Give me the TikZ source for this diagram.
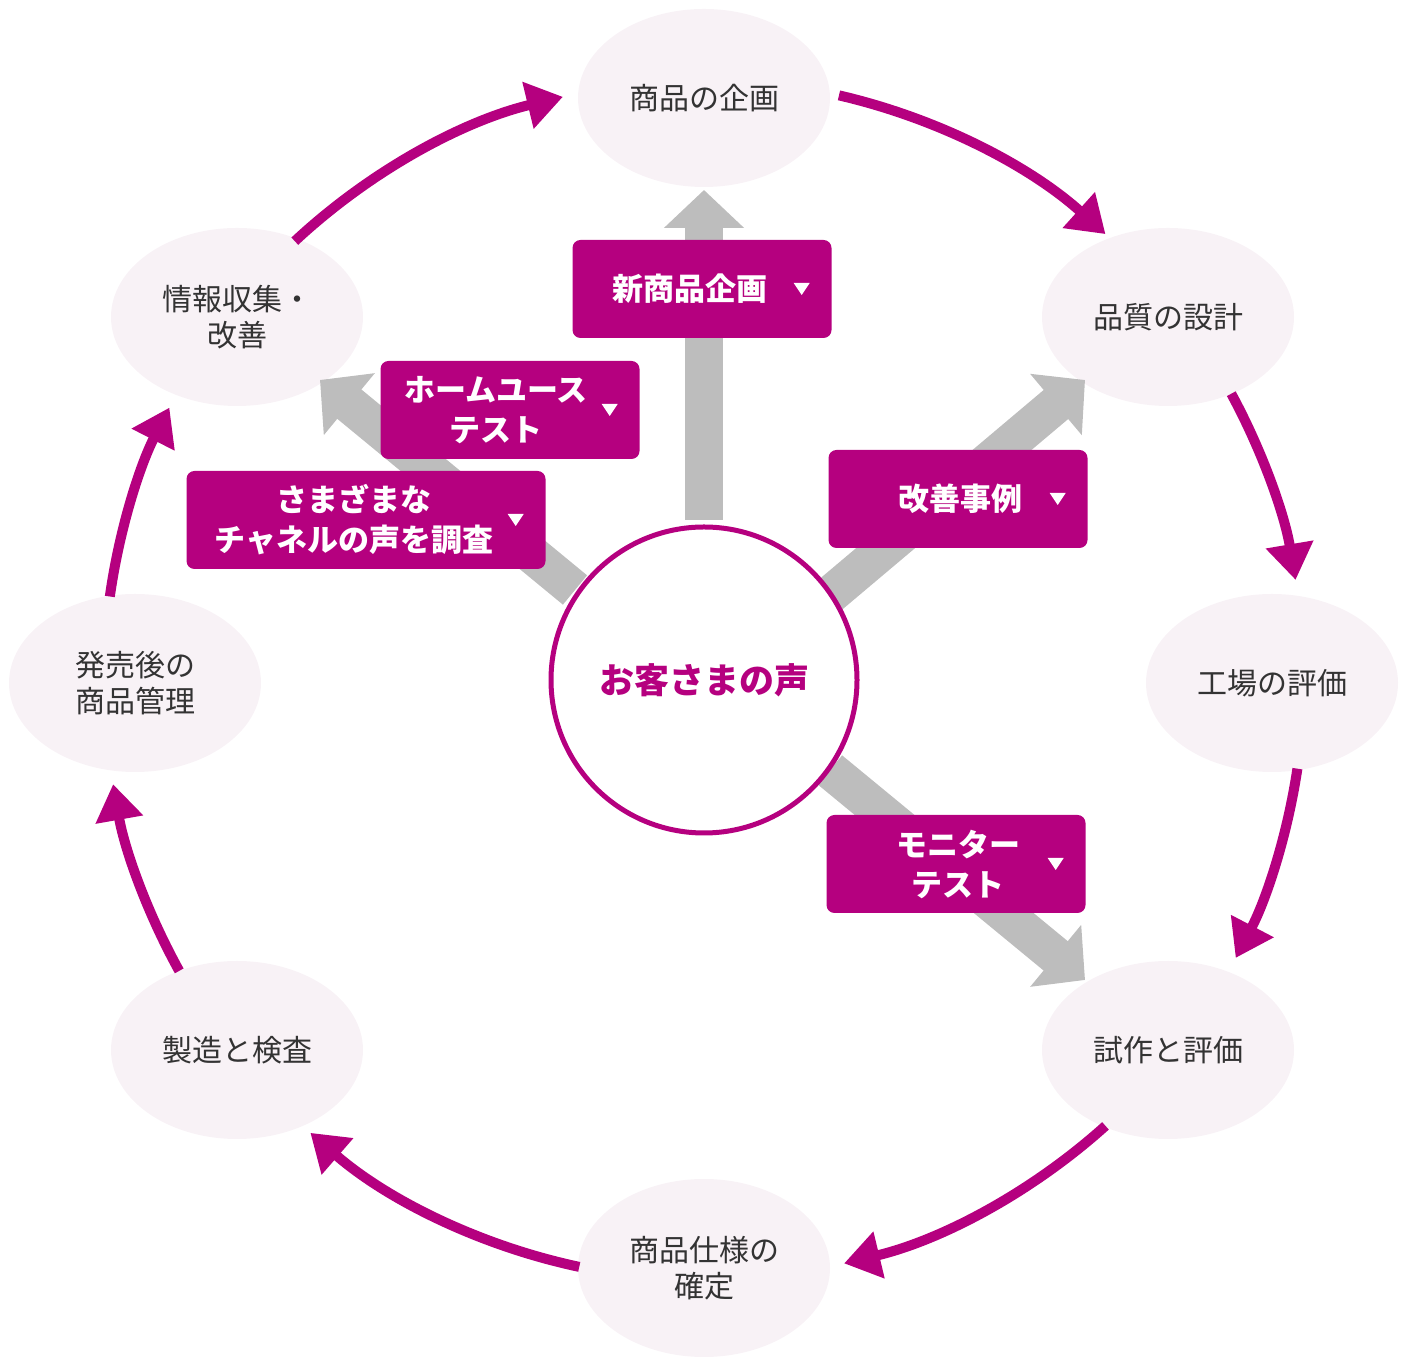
\documentclass[tikz,border=0pt]{standalone}
\usepackage{fontspec}
\setmainfont{Noto Sans CJK JP}
\usetikzlibrary{shapes.geometric,arrows.meta}
\definecolor{magenta}{HTML}{B5007F}
\definecolor{pale}{HTML}{F8F2F6}
\definecolor{ink}{HTML}{333333}
\definecolor{graybar}{HTML}{BDBDBD}
\tikzset{
  stage/.style={ellipse,fill=pale,minimum width=252pt,minimum height=178pt,
    text=ink,font=\fontsize{30}{36}\selectfont,align=center,inner sep=0pt},
  tagbox/.style={fill=magenta,rounded corners=8pt,minimum width=259pt,
    minimum height=98pt,inner sep=0pt},
  tagtext/.style={text=white,font=\bfseries\fontsize{31}{40}\selectfont,align=center},
  cycle/.style={magenta,line width=10pt,-{Triangle[length=36pt,width=46pt]}},
  feed/.style={graybar,line width=38pt,-{Triangle[length=38pt,width=78pt]}}
}
\newcommand{\tagmark}[1]{\fill[white] ($(#1.east)+(-38,6)$) -- ++(16,0) -- ++(-8,-12) -- cycle;}
\usetikzlibrary{calc}
\begin{document}
\begin{tikzpicture}[x=1pt,y=1pt]
\useasboundingbox (0,0) rectangle (1408,1368);
\coordinate (hub) at (704,688);

% stages
\node[stage] (plan) at (704,1270) {商品の企画};
\node[stage] (design) at (1168,1051) {品質の設計};
\node[stage] (factory) at (1272,685) {工場の評価};
\node[stage] (proto) at (1168,318) {試作と評価};
\node[stage] (spec) at (704,100) {商品仕様の\\確定};
\node[stage] (make) at (237,318) {製造と検査};
\node[stage] (after) at (135,685) {発売後の\\商品管理};
\node[stage] (info) at (237,1051) {情報収集・\\改善};

% cycle arrows
\draw[cycle] (hub) ++(77:600) arc (77:48:600);
\draw[cycle] (hub) ++(28.5:600) arc (28.5:9.6:600);
\draw[cycle] (hub) ++(-8.5:600) arc (-8.5:-27.6:600);
\draw[cycle] (hub) ++(-48:600) arc (-48:-76.5:600);
\draw[cycle] (hub) ++(-102:600) arc (-102:-131:600);
\draw[cycle] (hub) ++(-151:600) arc (-151:-170:600);
\draw[cycle] (hub) ++(172:600) arc (172:153:600);
\draw[cycle] (hub) ++(133:600) arc (133:103.6:600);

% feedback arrows
\draw[feed] (704,848) -- (704,1178);
\draw[feed] (830,773) -- (1085,988);
\draw[feed] (575,778) -- (320,988);
\draw[feed] (830,598) -- (1085,388);

% voice
\node[circle,draw=magenta,line width=5pt,fill=white,minimum size=306pt,
  text=magenta,font=\bfseries\fontsize{35}{40}\selectfont] (voice) at (704,688) {お客さまの声};

% tags
\node[tagbox] (newplan) at (702,1079) {};
\node[tagtext] at ($(newplan)+(-12,0)$) {新商品企画};
\tagmark{newplan}
\node[tagbox] (home) at (510,958) {};
\node[tagtext] at ($(home)+(-14,0)$) {ホームユース\\テスト};
\tagmark{home}
\node[tagbox,minimum width=359pt] (channel) at (366,848) {};
\node[tagtext] at ($(channel)+(-12,0)$) {さまざまな\\チャネルの声を調査};
\tagmark{channel}
\node[tagbox] (case) at (958,869) {};
\node[tagtext] at ($(case)+(2,0)$) {改善事例};
\tagmark{case}
\node[tagbox] (monitor) at (956,504) {};
\node[tagtext] at ($(monitor)+(2,0)$) {モニター\\テスト};
\tagmark{monitor}
\end{tikzpicture}
\end{document}
